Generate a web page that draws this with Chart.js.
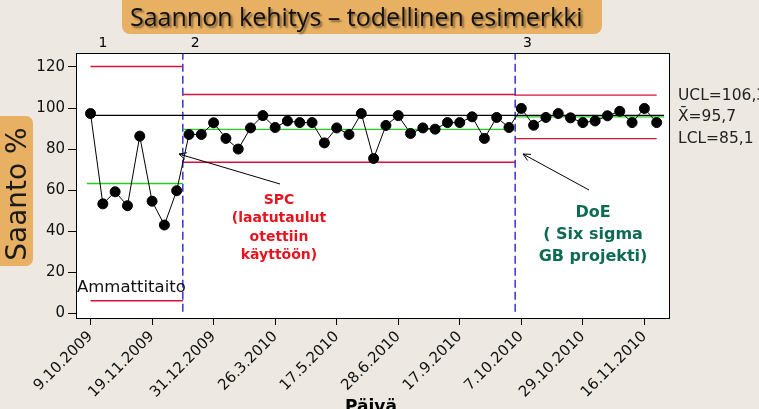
<!DOCTYPE html>
<html>
<head>
<meta charset="utf-8">
<script src="https://cdn.jsdelivr.net/npm/chart.js@4"></script>
<style>
    body { margin: 0; background: #ede9e2; }
    canvas { display: block; }
</style>
</head>
<body>
<canvas id="saanto" width="759" height="409"></canvas>
<script>
// saanto % per päivä (järjestysnumero 0..46)
const saanto = [97.3, 53.3, 59.2, 52.4, 86.3, 54.6, 43.0, 59.7,
    87.1, 87.1, 92.8, 85.2, 80.0, 90.3, 96.3, 90.5, 93.7, 92.9, 92.9, 83.0, 90.3, 87.1, 97.3, 75.4,
    91.5, 96.3, 87.6, 90.3, 89.7, 92.9, 92.9, 95.7, 85.2, 95.4, 90.5,
    99.8, 91.6, 95.4, 97.3, 95.2, 92.9, 93.7, 96.2, 98.4, 92.9, 99.8, 92.9];

// vaiheet 1, 2, 3
const stage_names = ['1', '2', '3'];
const stage_start = [0, 7.5, 34.5];
const stage_end = [7.5, 34.5, 46];
const ucl = [120.2, 106.6, 106.3];
const center = [63.2, 89.6, 95.7];
const lcl = [6.1, 73.6, 85.1];
const target = 96.4;

const x_tick_pos = [0, 5, 10, 15, 20, 25, 30, 35, 40, 45];
const x_tick_labels = ['9.10.2009', '19.11.2009', '31.12.2009', '26.3.2010', '17.5.2010',
    '28.6.2010', '17.9.2010', '7.10.2010', '29.10.2010', '16.11.2010'];
const y_ticks = [0, 20, 40, 60, 80, 100, 120];

const font = 'DejaVu Sans';

function hline(x0, x1, y, color) {
    return {
        data: [{x: x0, y: y}, {x: x1, y: y}],
        borderColor: color, borderWidth: 1.4, pointRadius: 0, fill: false
    };
}

let datasets = [];
datasets.push({
    label: 'Saanto',
    data: saanto.map((v, i) => ({x: i, y: v})),
    borderColor: '#000', borderWidth: 1,
    pointRadius: 5, pointBackgroundColor: '#000', pointBorderColor: '#000'
});
for (let s = 0; s < stage_names.length; s++) {
    let x0 = s === 0 ? 0 : stage_start[s];
    datasets.push(hline(x0, stage_end[s], ucl[s], '#d8103a'));
    datasets.push(hline(x0, stage_end[s], lcl[s], '#d8103a'));
    let g0 = s === 0 ? -0.3 : stage_start[s];
    let g1 = s === 2 ? 46.6 : stage_end[s];
    datasets.push(hline(g0, g1, center[s], '#22d022'));
}
datasets.push(hline(-0.3, 46.6, target, '#000'));
// vaiheiden rajat
for (let s = 1; s < stage_names.length; s++) {
    datasets.push({
        data: [{x: stage_start[s], y: 0.8}, {x: stage_start[s], y: 130}],
        borderColor: '#1616c8', borderWidth: 1.3, borderDash: [8, 4], pointRadius: 0
    });
}

function arrow(ctx, x0, y0, x1, y1) {
    ctx.beginPath();
    ctx.moveTo(x0, y0);
    ctx.lineTo(x1, y1);
    let a = Math.atan2(y1 - y0, x1 - x0);
    ctx.moveTo(x1 - 8 * Math.cos(a - 0.45), y1 - 8 * Math.sin(a - 0.45));
    ctx.lineTo(x1, y1);
    ctx.lineTo(x1 - 8 * Math.cos(a + 0.45), y1 - 8 * Math.sin(a + 0.45));
    ctx.stroke();
}

const decorations = {
    id: 'decorations',
    beforeDraw(chart) {
        let ctx = chart.ctx;
        let a = chart.chartArea;
        ctx.save();
        ctx.fillStyle = '#ede9e2';
        ctx.fillRect(0, 0, chart.width, chart.height);
        ctx.fillStyle = '#fff';
        ctx.fillRect(a.left, a.top, a.right - a.left, a.bottom - a.top);
        ctx.restore();
    },
    afterDraw(chart) {
        let ctx = chart.ctx;
        let a = chart.chartArea;
        let xs = chart.scales.x;
        let ys = chart.scales.y;
        ctx.save();
        ctx.strokeStyle = '#000';
        ctx.lineWidth = 1;
        ctx.strokeRect(a.left + 0.5, a.top + 0.5, a.right - a.left, a.bottom - a.top);

        // otsikko
        ctx.fillStyle = '#e8b062';
        ctx.beginPath();
        ctx.roundRect(122, -10, 480, 44, 8);
        ctx.fill();
        let size = 30;
        ctx.font = size + 'px "Open Sans"';
        let title = 'Saannon kehitys – todellinen esimerkki';
        size = size * 453 / ctx.measureText(title).width;
        ctx.font = size + 'px "Open Sans"';
        ctx.shadowColor = 'rgba(0,0,0,0.45)';
        ctx.shadowOffsetX = 2;
        ctx.shadowOffsetY = 2;
        ctx.shadowBlur = 2;
        ctx.fillStyle = '#111';
        ctx.textBaseline = 'alphabetic';
        ctx.textAlign = 'left';
        ctx.fillText(title, 130, 26);
        ctx.shadowColor = 'transparent';

        // y-akselin otsikko
        ctx.fillStyle = '#e8b062';
        ctx.beginPath();
        ctx.roundRect(-10, 116, 43, 150, 7);
        ctx.fill();
        ctx.save();
        ctx.translate(26, 194);
        ctx.rotate(-Math.PI / 2);
        ctx.fillStyle = '#1a1a1a';
        ctx.font = '28px ' + font;
        ctx.textAlign = 'center';
        ctx.fillText('Saanto %', 0, 0);
        ctx.restore();

        // x-akselin otsikko
        ctx.fillStyle = '#000';
        ctx.font = 'bold 17px ' + font;
        ctx.textAlign = 'center';
        ctx.textBaseline = 'top';
        ctx.fillText('Päivä', 371, 399);

        // vaiheiden numerot
        ctx.font = '14px ' + font;
        ctx.textBaseline = 'bottom';
        for (let s = 0; s < stage_names.length; s++) {
            let px = s === 0 ? xs.getPixelForValue(1) : xs.getPixelForValue(stage_start[s] + 1);
            ctx.fillText(stage_names[s], px, a.top - 3);
        }

        // rajat oikealla
        ctx.textAlign = 'left';
        ctx.textBaseline = 'middle';
        ctx.font = '15.5px ' + font;
        ctx.fillStyle = '#222';
        ctx.fillText('UCL=106,3', a.right + 9, ys.getPixelForValue(ucl[2]) + 1);
        ctx.fillText('X\u0304=95,7', a.right + 9, ys.getPixelForValue(center[2]));
        ctx.fillText('LCL=85,1', a.right + 9, ys.getPixelForValue(lcl[2]));

        // Ammattitaito
        ctx.fillStyle = '#fff';
        ctx.fillRect(a.left + 1, 277, 104, 21);
        ctx.fillStyle = '#111';
        ctx.font = '16.5px ' + font;
        ctx.fillText('Ammattitaito', a.left + 1, 288);

        // SPC
        ctx.textAlign = 'center';
        ctx.fillStyle = '#e5141f';
        ctx.font = 'bold 14px ' + font;
        ['SPC', '(laatutaulut', 'otettiin', 'käyttöön)'].forEach((t, i) => {
            ctx.fillText(t, 279, 200 + i * 18.5);
        });
        ctx.strokeStyle = '#000';
        arrow(ctx, 280, 184, 179, 154);

        // DoE
        ctx.fillStyle = '#0c6b52';
        ctx.font = 'bold 16px ' + font;
        ['DoE', '( Six sigma', 'GB projekti)'].forEach((t, i) => {
            ctx.fillText(t, 593, 213 + i * 22);
        });
        arrow(ctx, 589, 190, 523, 154);
        ctx.restore();
    }
};

let config = {
    type: 'line',
    data: {datasets: datasets},
    options: {
        responsive: false,
        animation: false,
        layout: {padding: {top: 53, right: 90, left: 0, bottom: 0}},
        plugins: {
            legend: {display: false},
            tooltip: {enabled: false}
        },
        scales: {
            x: {
                type: 'linear',
                min: -1.18,
                max: 47,
                afterBuildTicks: axis => { axis.ticks = x_tick_pos.map(v => ({value: v})); },
                afterFit: axis => { axis.height = 91; },
                ticks: {
                    callback: (v, i) => x_tick_labels[i],
                    minRotation: 45, maxRotation: 45,
                    color: '#111', font: {family: font, size: 15}
                },
                grid: {drawOnChartArea: false, color: '#000', tickLength: 7},
                border: {color: '#000'}
            },
            y: {
                min: -2.3,
                max: 126.8,
                afterBuildTicks: axis => { axis.ticks = y_ticks.map(v => ({value: v})); },
                afterFit: axis => { axis.width = 76; },
                ticks: {color: '#111', font: {family: font, size: 15}},
                grid: {drawOnChartArea: false, color: '#000', tickLength: 8},
                border: {color: '#000'}
            }
        }
    },
    plugins: [decorations]
};

new Chart(document.getElementById('saanto').getContext('2d'), config);
</script>
</body>
</html>
